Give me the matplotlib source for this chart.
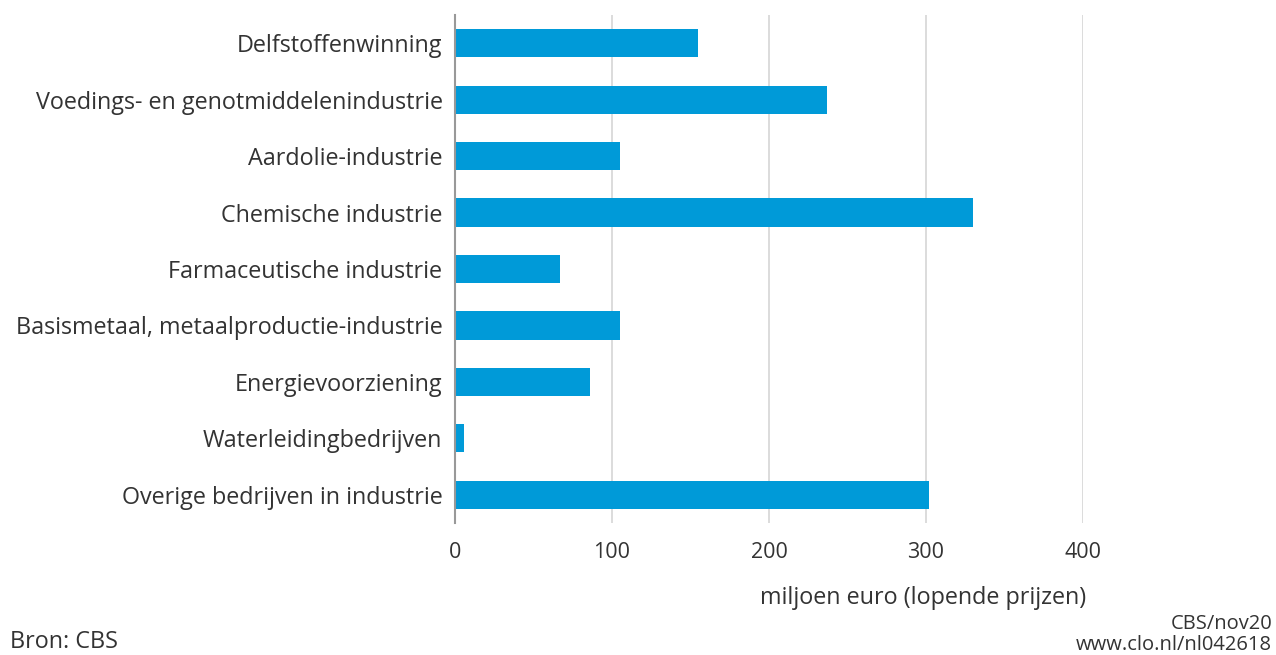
import matplotlib.pyplot as plt

# Data
categories = [
    "Delfstoffenwinning",
    "Voedings- en genotmiddelenindustrie",
    "Aardolie-industrie",
    "Chemische industrie",
    "Farmaceutische industrie",
    "Basismetaal, metaalproductie-industrie",
    "Energievoorziening",
    "Waterleidingbedrijven",
    "Overige bedrijven in industrie",
]
values = [155, 237, 105, 330, 67, 105, 86, 6, 302]
xticks = [0, 100, 200, 300, 400]

plt.rcParams['font.family'] = ['Open Sans', 'DejaVu Sans']
text_color = '#333333'

fig = plt.figure(figsize=(12.76, 6.55), dpi=100)
ax = fig.add_axes([455 / 1276, 1 - 523 / 655, (1083 - 455) / 1276, (523 - 15) / 655])

ypos = range(len(categories))
ax.barh(ypos, values, height=0.5, color='#009AD8', zorder=3)

ax.set_ylim(len(categories) - 0.5, -0.5)
ax.set_xlim(0, 400)
ax.set_yticks(list(ypos))
ax.set_yticklabels(categories, fontsize=16.8, color=text_color)
ax.set_xticks(xticks)
ax.set_xticklabels([str(t) for t in xticks], fontsize=15.5, color=text_color)
ax.tick_params(axis='y', length=0, pad=9)
ax.tick_params(axis='x', length=0, pad=14)

ax.grid(axis='x', color='#d9d9d9', linewidth=1.3, zorder=0)
for s in ['top', 'right', 'bottom']:
    ax.spines[s].set_visible(False)
ax.spines['left'].set_color('#999999')
ax.spines['left'].set_linewidth(1.5)
ax.spines['left'].set_zorder(4)

fig.text(1086 / 1276, 1 - 598 / 655, "miljoen euro (lopende prijzen)", ha='right', va='center',
         fontsize=16.8, color=text_color)
fig.text(1272 / 1276, 1 - 624 / 655, "CBS/nov20", ha='right', va='center', fontsize=14.5, color=text_color)
fig.text(1272 / 1276, 1 - 645 / 655, "www.clo.nl/nl042618", ha='right', va='center', fontsize=14.5, color=text_color)
fig.text(10 / 1276, 1 - 642 / 655, "Bron: CBS", ha='left', va='center', fontsize=16.8, color=text_color)

fig.savefig('out.png', dpi=100)
